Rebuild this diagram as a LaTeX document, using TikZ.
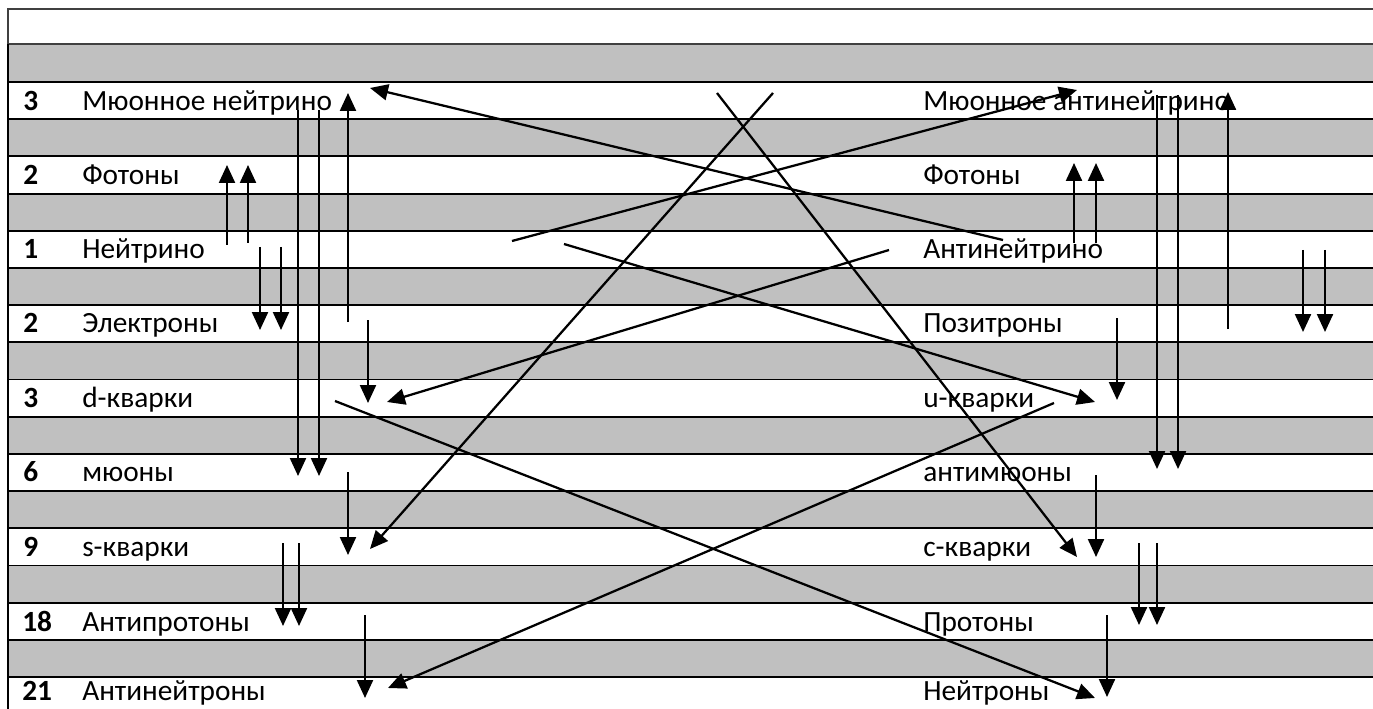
\documentclass[tikz,border=0pt]{standalone}
\usepackage{fontspec}
\setmainfont{Carlito}
\usetikzlibrary{arrows.meta}
\definecolor{bandgray}{HTML}{C0C0C0}
\definecolor{framegray}{HTML}{404040}

\begin{document}
\begin{tikzpicture}[
  x=0.75pt, y=-0.75pt,
  font=\fontsize{22}{26}\selectfont,
  lbl/.style={anchor=base west, inner sep=0pt},
  num/.style={lbl, font=\fontsize{22}{26}\selectfont\bfseries},
  band/.style={fill=bandgray},
  rowline/.style={line width=1.4pt},
  frame/.style={draw=framegray, line width=1.8pt},
  arr/.style={-{Triangle[length=13.5pt, width=12pt]}, line width=1.7pt}
]
\useasboundingbox (0,0) rectangle (1373,709);

% --- Table ---
\fill[band] (8,44) rectangle (1373,82);
\foreach \k in {1,3,...,15}
  \fill[band] (8,{82+\k*37.19}) rectangle (1373,{82+(\k+1)*37.19});
\foreach \k in {0,...,16}
  \draw[rowline] (8,{82+\k*37.19}) -- (1373,{82+\k*37.19});
\draw[frame] (1380,9) -- (8,9) -- (8,44) -- (1380,44);
\draw[line width=1.8pt] (8,44) -- (8,712);

% --- Left column ---
\node[num] (n1) at (23,111) {3};
\node[num] (n2) at (23,185) {2};
\node[num] (n3) at (23,258.5) {1};
\node[num] (n4) at (23,332.5) {2};
\node[num] (n5) at (23,407) {3};
\node[num] (n6) at (23,481.5) {6};
\node[num] (n7) at (23,556.5) {9};
\node[num] (n8) at (22,631) {18};
\node[num] (n9) at (22,700) {21};

\node[lbl] (mnu) at (82,111) {Мюонное нейтрино};
\node[lbl] (ph) at (82,185) {Фотоны};
\node[lbl] (nu) at (82,258.5) {Нейтрино};
\node[lbl] (el) at (82,332.5) {Электроны};
\node[lbl] (dq) at (82,407) {d-кварки};
\node[lbl] (mu) at (82,481.5) {мюоны};
\node[lbl] (sq) at (82,556.5) {s-кварки};
\node[lbl] (apr) at (82,631) {Антипротоны};
\node[lbl] (ane) at (82,700) {Антинейтроны};

% --- Right column ---
\node[lbl] (amnu) at (923,111) {Мюонное антинейтрино};
\node[lbl] (aph) at (923,185) {Фотоны};
\node[lbl] (anu) at (923,258.5) {Антинейтрино};
\node[lbl] (pos) at (923,332.5) {Позитроны};
\node[lbl] (uq) at (923,407) {u-кварки};
\node[lbl] (amu) at (923,481.5) {антимюоны};
\node[lbl] (cq) at (923,556.5) {c-кварки};
\node[lbl] (pr) at (923,631) {Протоны};
\node[lbl] (ne) at (923,700) {Нейтроны};

% --- Vertical arrows, left ---
\draw[arr] (227,245) -- (227,165);
\draw[arr] (248,243) -- (248,165);
\draw[arr] (260,247) -- (260,330);
\draw[arr] (281,247) -- (281,330);
\draw[arr] (298,110) -- (298,476);
\draw[arr] (319,110) -- (319,476);
\draw[arr] (348,322) -- (348,93);
\draw[arr] (368,320) -- (368,403);
\draw[arr] (348,472) -- (348,555);
\draw[arr] (283,543) -- (283,626);
\draw[arr] (299,543) -- (299,626);
\draw[arr] (365,615) -- (365,698);

% --- Vertical arrows, right ---
\draw[arr] (1074,243) -- (1074,163);
\draw[arr] (1096,243) -- (1096,163);
\draw[arr] (1157,95) -- (1157,469);
\draw[arr] (1178,95) -- (1178,469);
\draw[arr] (1228,329) -- (1228,92);
\draw[arr] (1303,250) -- (1303,332);
\draw[arr] (1325,250) -- (1325,332);
\draw[arr] (1117,318) -- (1117,400);
\draw[arr] (1096,475) -- (1096,557);
\draw[arr] (1139,543) -- (1139,625);
\draw[arr] (1157,543) -- (1157,625);
\draw[arr] (1107,615) -- (1107,697);

% --- Crossing arrows ---
\draw[arr] (1003,240) -- (370,88);
\draw[arr] (512,241) -- (1077,90);
\draw[arr] (564,244) -- (1095,402);
\draw[arr] (889,250) -- (387,402);
\draw[arr] (717,93) -- (1077,557);
\draw[arr] (773,93) -- (370,549);
\draw[arr] (335,401) -- (1095,698);
\draw[arr] (1054,403) -- (388,688);

\end{tikzpicture}
\end{document}
